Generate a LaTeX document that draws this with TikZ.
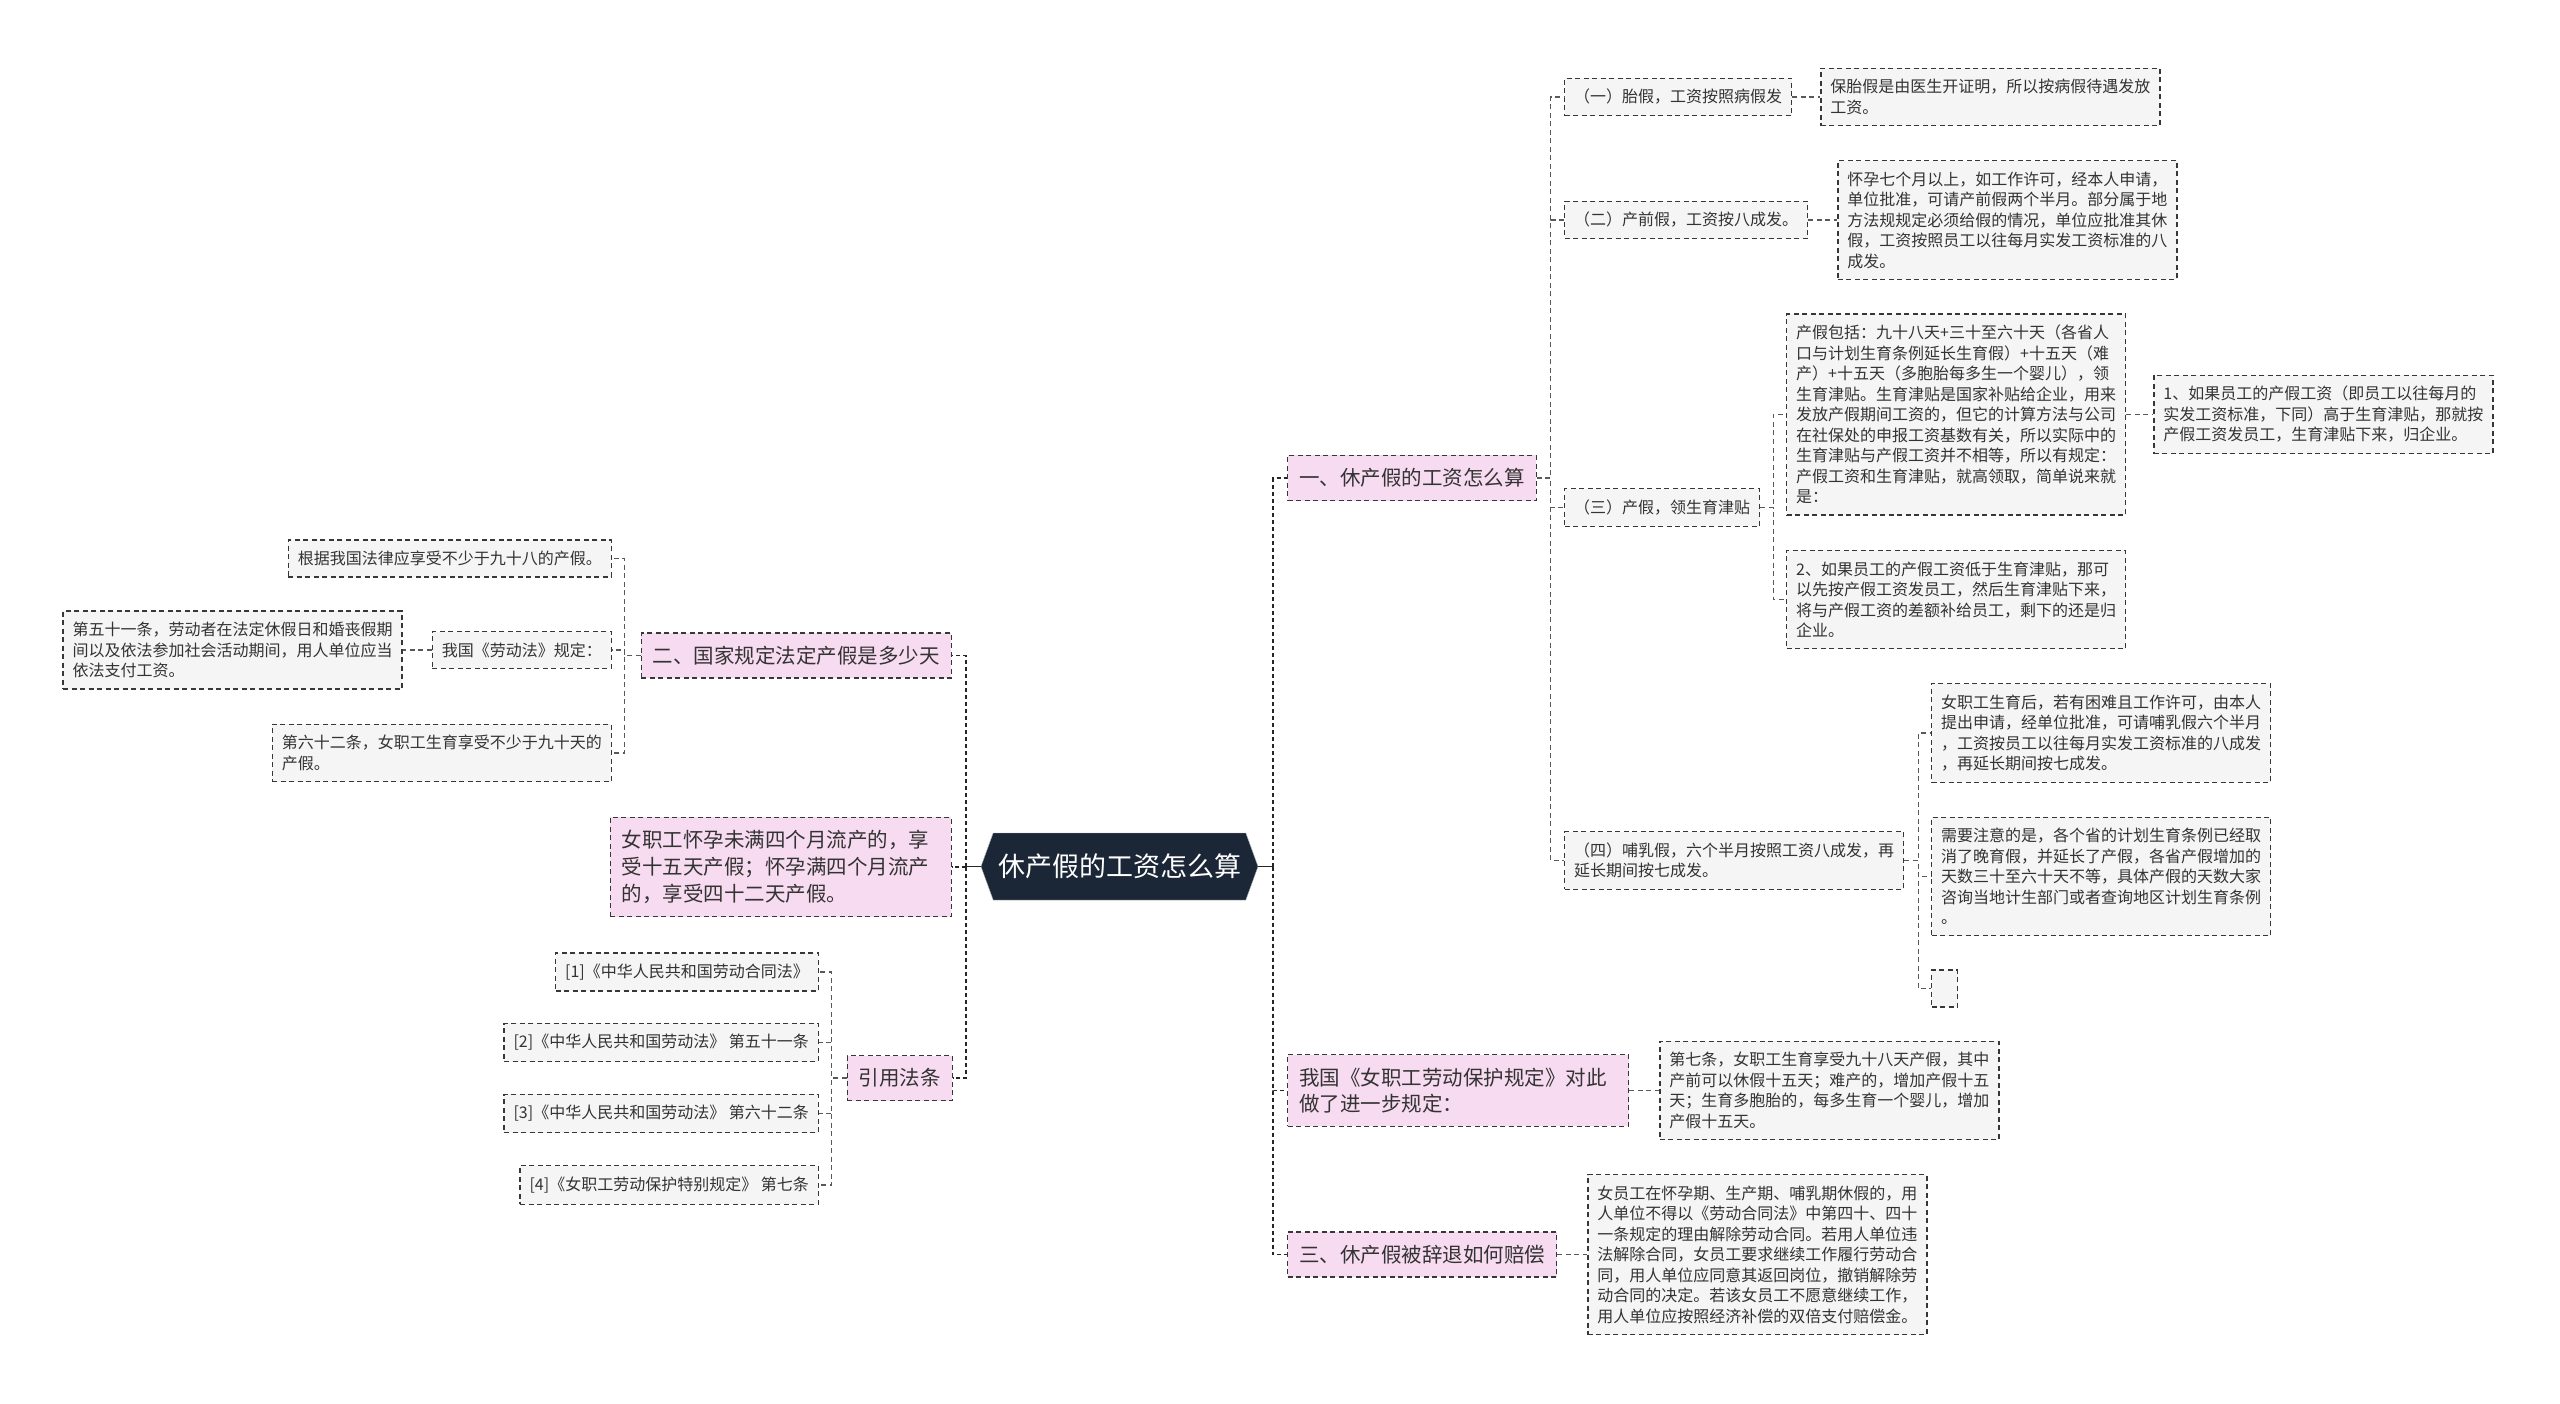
\documentclass[tikz,border=0pt]{standalone}
\usepackage{fontspec}
\setmainfont{Noto Sans CJK SC}
\usetikzlibrary{positioning, shapes.symbols}

\definecolor{nodepink}{RGB}{247,219,240}
\definecolor{leafgray}{RGB}{245,245,245}
\definecolor{edgegray}{RGB}{55,55,55}
\definecolor{inkgray}{RGB}{51,51,51}
\definecolor{rootnavy}{RGB}{27,38,54}

\begin{document}
\begin{tikzpicture}[
    x=1pt, y=-1pt,
    base/.style={rectangle, draw=edgegray, line width=1.3pt, dash pattern=on 5pt off 3.5pt, text=inkgray, align=left, inner xsep=9.5pt, inner ysep=11pt},
    leaf/.style={base, fill=leafgray, font=\fontsize{16pt}{20.5pt}\selectfont},
    note/.style={leaf, text width=320pt},
    topic/.style={base, fill=nodepink, font=\fontsize{20.5pt}{26.7pt}\selectfont, inner xsep=11.5pt, inner ysep=13pt},
    root/.style={signal, signal to=west and east, signal pointer angle=140, fill=rootnavy, draw=gray!60, text=white, font=\fontsize{27pt}{32pt}\selectfont, minimum width=277pt, minimum height=67pt},
    trunk/.style={draw=black!85, line width=1.8pt, dash pattern=on 4pt off 3pt},
    link/.style={draw=black!65, line width=1.1pt, dash pattern=on 5pt off 3.5pt},
    stem/.style={draw=black!85, line width=1.8pt}
]
    \useasboundingbox (0,0) rectangle (2560,1404);

    % --- Nodes ---
    \node[root] (root) at (1119.5,866.5) {休产假的工资怎么算};

    % Right branch: 一
    \node[topic, anchor=west] (pay) at (1287,478) {一、休产假的工资怎么算};
    \node[leaf, anchor=west] (tai) at (1564,97) {（一）胎假，工资按照病假发};
    \node[note, right=28pt of tai] (taiN) {保胎假是由医生开证明，所以按病假待遇发放\\工资。};
    \node[leaf, anchor=west] (pre) at (1564,220) {（二）产前假，工资按八成发。};
    \node[note, right=29pt of pre] (preN) {怀孕七个月以上，如工作许可，经本人申请，\\单位批准，可请产前假两个半月。部分属于地\\方法规规定必须给假的情况，单位应批准其休\\假，工资按照员工以往每月实发工资标准的八\\成发。};
    \node[leaf, anchor=west] (mat) at (1564,507.5) {（三）产假，领生育津贴};
    \node[note, anchor=west] (matA) at (1786,414.5) {产假包括：九十八天+三十至六十天（各省人\\口与计划生育条例延长生育假）+十五天（难\\产）+十五天（多胞胎每多生一个婴儿），领\\生育津贴。生育津贴是国家补贴给企业，用来\\发放产假期间工资的，但它的计算方法与公司\\在社保处的申报工资基数有关，所以实际中的\\生育津贴与产假工资并不相等，所以有规定：\\产假工资和生育津贴，就高领取，简单说来就\\是：};
    \node[note, right=27pt of matA] (matA1) {1、如果员工的产假工资（即员工以往每月的\\实发工资标准，下同）高于生育津贴，那就按\\产假工资发员工，生育津贴下来，归企业。};
    \node[note, anchor=west] (matB) at (1786,599.5) {2、如果员工的产假工资低于生育津贴，那可\\以先按产假工资发员工，然后生育津贴下来，\\将与产假工资的差额补给员工，剩下的还是归\\企业。};
    \node[note, anchor=west] (nurse) at (1564,860.5) {（四）哺乳假，六个半月按照工资八成发，再\\延长期间按七成发。};
    \node[note, anchor=west] (nurseA) at (1931,733) {女职工生育后，若有困难且工作许可，由本人\\提出申请，经单位批准，可请哺乳假六个半月\\，工资按员工以往每月实发工资标准的八成发\\，再延长期间按七成发。};
    \node[note, anchor=west] (nurseB) at (1931,876.5) {需要注意的是，各个省的计划生育条例已经取\\消了晚育假，并延长了产假，各省产假增加的\\天数三十至六十天不等，具体产假的天数大家\\咨询当地计生部门或者查询地区计划生育条例\\。};
    \node[leaf, anchor=west, inner sep=0pt, minimum width=26pt, minimum height=37pt] (nurseC) at (1931,988.5) {};

    % Right branch: rules and dismissal
    \node[topic, anchor=west, text width=318pt] (rule) at (1287,1090.5) {我国《女职工劳动保护规定》对此\\做了进一步规定：};
    \node[note, right=30pt of rule] (ruleN) {第七条，女职工生育享受九十八天产假，其中\\产前可以休假十五天；难产的，增加产假十五\\天；生育多胞胎的，每多生育一个婴儿，增加\\产假十五天。};
    \node[topic, anchor=west] (fired) at (1287,1254.5) {三、休产假被辞退如何赔偿};
    \node[note, right=30pt of fired] (firedN) {女员工在怀孕期、生产期、哺乳期休假的，用\\人单位不得以《劳动合同法》中第四十、四十\\一条规定的理由解除劳动合同。若用人单位违\\法解除合同，女员工要求继续工作履行劳动合\\同，用人单位应同意其返回岗位，撤销解除劳\\动合同的决定。若该女员工不愿意继续工作，\\用人单位应按照经济补偿的双倍支付赔偿金。};

    % Left branch: 二
    \node[topic, anchor=east] (days) at (952,655.5) {二、国家规定法定产假是多少天};
    \node[leaf, anchor=east] (daysA) at (612,558.5) {根据我国法律应享受不少于九十八的产假。};
    \node[leaf, anchor=east] (daysB) at (612,650) {我国《劳动法》规定：};
    \node[note, left=29pt of daysB] (daysB1) {第五十一条，劳动者在法定休假日和婚丧假期\\间以及依法参加社会活动期间，用人单位应当\\依法支付工资。};
    \node[note, anchor=east] (daysC) at (612,753) {第六十二条，女职工生育享受不少于九十天的\\产假。};

    % Left branch: miscarriage and laws
    \node[topic, anchor=east, text width=318pt] (early) at (952,867) {女职工怀孕未满四个月流产的，享\\受十五天产假；怀孕满四个月流产\\的，享受四十二天产假。};
    \node[topic, anchor=east] (laws) at (953,1078) {引用法条};
    \node[leaf, anchor=east] (law1) at (819,972) {[1]《中华人民共和国劳动合同法》};
    \node[leaf, anchor=east] (law2) at (819,1042.5) {[2]《中华人民共和国劳动法》 第五十一条};
    \node[leaf, anchor=east] (law3) at (819,1113.5) {[3]《中华人民共和国劳动法》 第六十二条};
    \node[leaf, anchor=east] (law4) at (819,1185) {[4]《女职工劳动保护特别规定》 第七条};

    % --- Connections ---
    \draw[stem] (root.east) -- ++(15,0) coordinate (hubR);
    \draw[stem] (root.west) -- ++(-15,0) coordinate (hubL);

    \draw[trunk] (hubR) |- (pay.west);
    \draw[trunk] (hubR) |- (rule.west);
    \draw[trunk] (hubR) |- (fired.west);
    \draw[trunk] (hubL) |- (days.east);
    \draw[trunk] (hubL) |- (early.east);
    \draw[trunk] (hubL) |- (laws.east);

    \draw[link] (pay.east) -- ++(14,0) |- (tai.west);
    \draw[link] (pay.east) -- ++(14,0) |- (pre.west);
    \draw[link] (pay.east) -- ++(14,0) |- (mat.west);
    \draw[link] (pay.east) -- ++(14,0) |- (nurse.west);

    \draw[link] (tai.east) -- (taiN.west);
    \draw[link] (pre.east) -- (preN.west);
    \draw[link] (mat.east) -- ++(13,0) |- (matA.west);
    \draw[link] (mat.east) -- ++(13,0) |- (matB.west);
    \draw[link] (matA.east) -- (matA1.west);
    \draw[link] (nurse.east) -- ++(14,0) |- (nurseA.west);
    \draw[link] (nurse.east) -- ++(14,0) |- (nurseB.west);
    \draw[link] (nurse.east) -- ++(14,0) |- (nurseC.west);
    \draw[link] (rule.east) -- (ruleN.west);
    \draw[link] (fired.east) -- (firedN.west);

    \draw[link] (days.west) -- ++(-16,0) |- (daysA.east);
    \draw[link] (days.west) -- ++(-16,0) |- (daysB.east);
    \draw[link] (days.west) -- ++(-16,0) |- (daysC.east);
    \draw[link] (daysB.west) -- (daysB1.east);

    \draw[link] (laws.west) -- ++(-15,0) |- (law1.east);
    \draw[link] (laws.west) -- ++(-15,0) |- (law2.east);
    \draw[link] (laws.west) -- ++(-15,0) |- (law3.east);
    \draw[link] (laws.west) -- ++(-15,0) |- (law4.east);

\end{tikzpicture}
\end{document}
